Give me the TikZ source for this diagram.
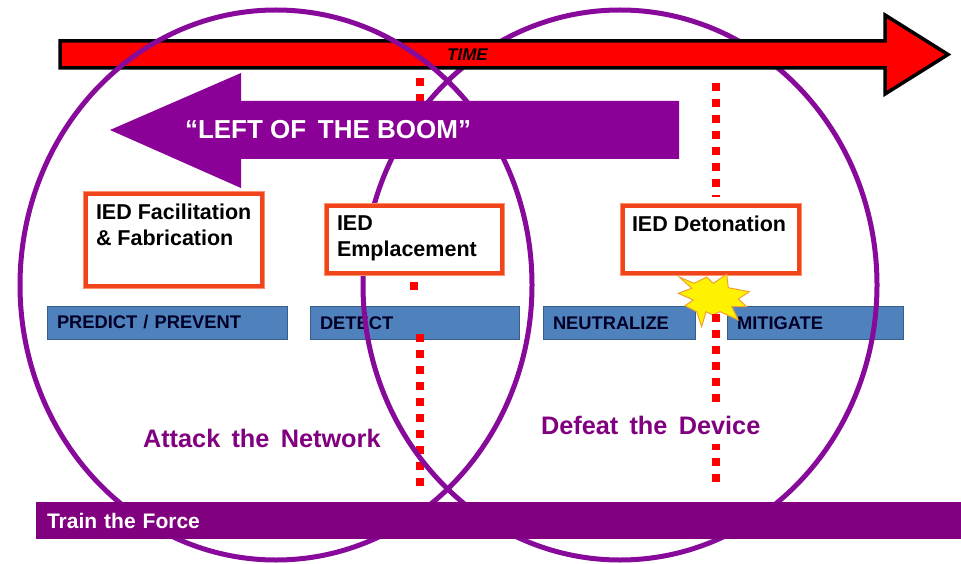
\documentclass[tikz,border=0pt]{standalone}
\usepackage{fontspec}
\setmainfont{Liberation Sans}
\definecolor{ringpurple}{HTML}{880A9A}
\definecolor{arrowpurple}{HTML}{8B0096}
\definecolor{forcepurple}{HTML}{800080}
\definecolor{barblue}{HTML}{4F81BD}
\definecolor{barline}{HTML}{385D8A}
\definecolor{boxedge}{HTML}{F0451A}
\definecolor{boxglow}{HTML}{FF8F68}
\definecolor{starline}{HTML}{F0A030}
\newcommand{\fsz}[1]{\fontsize{#1}{25.5}\selectfont}
\begin{document}
\begin{tikzpicture}[x=1pt,y=-1pt,
    every node/.style={inner sep=0pt,outer sep=0pt,font=\bfseries},
    ring/.style={draw=ringpurple,line width=5pt},
    redline/.style={draw=red,line width=8pt,dash pattern=on 8pt off 8pt},
    phasebox/.style={draw=boxedge,line width=4pt,fill=white,
        preaction={draw=boxglow,line width=6.5pt}},
    phasetext/.style={anchor=north west,align=left,font=\bfseries\fsz{21.5}},
    bluebar/.style={anchor=west,draw=barline,fill=barblue,line width=1pt,
        minimum height=33pt,inner xsep=10pt,align=left,text=black!85!blue,
        font=\bfseries\fsz{18.3}},
    purpletext/.style={anchor=west,text=forcepurple,font=\bfseries\fsz{25.3}}]
    \useasboundingbox (0,0) rectangle (961,564);
    \fill[white] (0,0) rectangle (961,564);

    \node[bluebar,text width=220pt] (predict) at (47,322.5) {PREDICT / PREVENT};
    \node[bluebar,text width=189pt] (detect) at (310,323) {DETECT};
    \node[bluebar,text width=132pt] (neutralize) at (543,323) {NEUTRALIZE};
    \node[bluebar,text width=156pt] (mitigate) at (727,323) {MITIGATE};

    \coordinate (lefttop) at (420,78);
    \coordinate (leftstop) at (420,101);
    \coordinate (midtop) at (414,282);
    \coordinate (midstop) at (414,290);
    \coordinate (leftlow) at (420,334);
    \coordinate (leftend) at (420,486);
    \draw[redline] (lefttop) -- (leftstop);
    \draw[redline] (midtop) -- (midstop);
    \draw[redline] (leftlow) -- (leftend);

    \draw[ring] (620,285) ellipse (257 and 275);
    \draw[line width=3.5pt,fill=red,line join=miter]
        (60,41) -- (885,41) -- (885,15) -- (948,54.5) -- (885,94) -- (885,68) -- (60,68) -- cycle;
    \node[text=black,font=\bfseries\itshape\fsz{17}] (time) at (467.5,55) {TIME};
    \draw[ring] (276,285) ellipse (256 and 275);

    \fill[arrowpurple] (110,130) -- (241,73) -- (241,101) -- (679,101) -- (679,159) -- (241,159) -- (241,188) -- cycle;
    \node[text=white,font=\bfseries\fsz{26}] (boom) at (328,130) {“LEFT OF\, THE BOOM”};

    \node[phasebox,minimum width=176pt,minimum height=92pt] (fabrication) at (174,240) {};
    \node[phasebox,minimum width=175pt,minimum height=67pt] (emplacement) at (414.5,239.5) {};
    \node[phasebox,minimum width=176pt,minimum height=67pt] (detonation) at (711,239.5) {};
    \node[phasetext] (fabtext) at (96,204) {IED Facilitation\\\& Fabrication};
    \node[phasetext] (emptext) at (337,216) {IED\\Emplacement};
    \node[phasetext] (dettext) at (632,216) {IED Detonation};

    \coordinate (righttop) at (716,83);
    \coordinate (rightstop) at (716,197);
    \coordinate (rightlow) at (716,314);
    \coordinate (rightend) at (716,482);
    \draw[redline] (righttop) -- (rightstop);
    \draw[draw=starline,fill=yellow,line width=1pt,line join=miter]
        (679.3,277) -- (694,283.3) -- (706.7,277) -- (713.3,283.3) -- (726.7,274.3)
        -- (728.3,287.7) -- (749.3,291.7) -- (738.3,299) -- (746.7,306.7) -- (731.7,306.7)
        -- (738.3,320) -- (720,311.7) -- (712.7,315) -- (706,311.7) -- (701.7,326.7)
        -- (696.7,311.7) -- (685,305.7) -- (693.3,300) -- (678.3,293.3) -- (691.7,288.3) -- cycle;
    \draw[redline] (rightlow) -- (rightend);

    \node[purpletext] (attack) at (143,438) {Attack\, the\, Network};
    \node[purpletext,fill=white,inner ysep=10pt] (defeat) at (541,425) {Defeat\, the\, Device};

    \node[anchor=west,fill=forcepurple,minimum width=925pt,minimum height=37pt,
        text width=914pt,inner xsep=11pt,align=left,text=white,font=\bfseries\fsz{21}]
        (force) at (36,520.5) {Train the Force};
\end{tikzpicture}
\end{document}
